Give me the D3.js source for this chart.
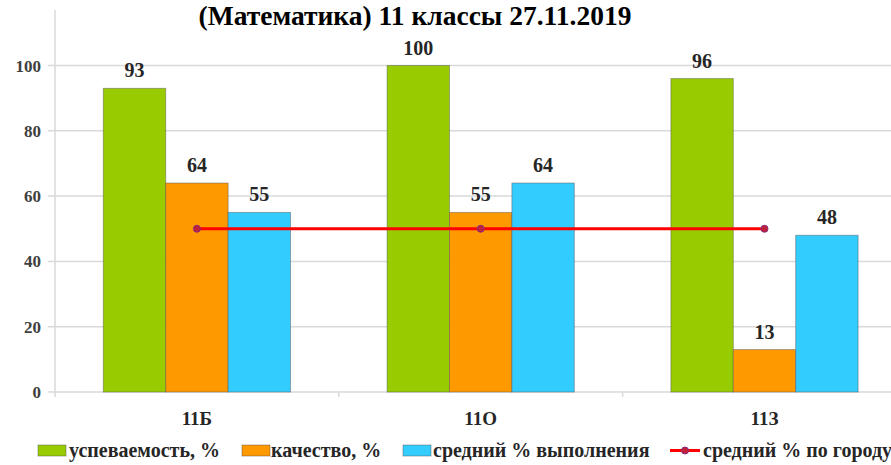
<!DOCTYPE html>
<head>
<meta charset="utf-8">
<script src="https://cdn.jsdelivr.net/npm/d3@7/dist/d3.min.js"></script>
</head>
<body style="margin:0; background:#fff">
<script>
// data
var classes = ["11Б", "11О", "11З"];
var seriesNames = ["успеваемость, %", "качество, %", "средний % выполнения"];
var lineName = "средний % по городу";
var uspev = [93, 100, 96];
var kachestvo = [64, 55, 13];
var vypolnenie = [55, 64, 48];
var cityAvg = [50, 50, 50];
var yTicks = [0, 20, 40, 60, 80, 100];
var colors = ["#99cc00", "#ff9900", "#33ccff"];

var width = 891, height = 465;
var svg = d3.select("body").append("svg")
  .attr("width", width)
  .attr("height", height)
  .attr("xmlns", "http://www.w3.org/2000/svg")
  .attr("font-family", "'Liberation Serif', 'DejaVu Serif', serif")
  .attr("font-weight", "bold");

var y = d3.scaleLinear().domain([0, 117]).range([392, 10]);
var x = d3.scaleBand().domain(classes).range([55, 906.4]);
var xs = d3.scaleBand().domain(d3.range(3)).range([0, x.bandwidth()]).paddingOuter(0.774);

// grid lines
svg.selectAll("line.grid")
  .data(yTicks).enter().append("line")
  .attr("class", "grid")
  .attr("x1", 48).attr("x2", width)
  .attr("y1", function(d) {return y(d);})
  .attr("y2", function(d) {return y(d);})
  .attr("stroke", "#d9d9d9")
  .attr("stroke-width", 1.5);

// y axis line
svg.append("line")
  .attr("x1", 55).attr("x2", 55)
  .attr("y1", y(117)).attr("y2", y(0) + 5)
  .attr("stroke", "#d9d9d9").attr("stroke-width", 1.5);

svg.selectAll("text.ytick")
  .data(yTicks).enter().append("text")
  .attr("class", "ytick")
  .attr("x", 41).attr("y", function(d) {return y(d) + 6;})
  .attr("text-anchor", "end")
  .attr("fill", "#404040")
  .style("font-size", "17px")
  .text(function(d) {return d;});

// x ticks between categories
svg.selectAll("line.xtick")
  .data([1, 2]).enter().append("line")
  .attr("class", "xtick")
  .attr("x1", function(d) {return x(classes[d]);})
  .attr("x2", function(d) {return x(classes[d]);})
  .attr("y1", y(0)).attr("y2", y(0) + 5)
  .attr("stroke", "#d9d9d9").attr("stroke-width", 1.5);

svg.selectAll("text.xlab")
  .data(classes).enter().append("text")
  .attr("class", "xlab")
  .attr("x", function(d) {return x(d) + x.bandwidth() / 2;})
  .attr("y", 425)
  .attr("text-anchor", "middle")
  .attr("fill", "#262626")
  .style("font-size", "19px")
  .text(function(d) {return d;});

// bars
var series = [uspev, kachestvo, vypolnenie];
series.forEach(function(vals, s) {
  svg.selectAll("rect.s" + s)
    .data(vals).enter().append("rect")
    .attr("class", "s" + s)
    .attr("x", function(d, i) {return x(classes[i]) + xs(s);})
    .attr("width", xs.bandwidth())
    .attr("y", function(d) {return y(d);})
    .attr("height", function(d) {return y(0) - y(d);})
    .attr("fill", colors[s])
    .attr("stroke", "rgba(80,80,80,0.45)")
    .attr("stroke-width", 1);
  svg.selectAll("text.v" + s)
    .data(vals).enter().append("text")
    .attr("class", "v" + s)
    .attr("x", function(d, i) {return x(classes[i]) + xs(s) + xs.bandwidth() / 2;})
    .attr("y", function(d) {return y(d) - 11;})
    .attr("text-anchor", "middle")
    .attr("fill", "#262626")
    .style("font-size", "20px")
    .text(function(d) {return d;});
});

// city average line
var line = d3.line()
  .x(function(d, i) {return x(classes[i]) + x.bandwidth() / 2;})
  .y(function(d) {return y(d);});
svg.append("path")
  .datum(cityAvg)
  .attr("d", line)
  .attr("fill", "none")
  .attr("stroke", "#ff0000")
  .attr("stroke-width", 3);
svg.selectAll("circle.avg")
  .data(cityAvg).enter().append("circle")
  .attr("class", "avg")
  .attr("cx", function(d, i) {return x(classes[i]) + x.bandwidth() / 2;})
  .attr("cy", function(d) {return y(d);})
  .attr("r", 3.5)
  .attr("fill", "#c0203a")
  .attr("stroke", "#8a2a7a")
  .attr("stroke-width", 1);

// title
svg.append("text")
  .attr("x", 415).attr("y", 25)
  .attr("text-anchor", "middle")
  .attr("fill", "#000")
  .style("font-size", "27.5px")
  .text("(Математика) 11 классы 27.11.2019");

// legend
var legX = [38, 242, 403];
var legTextX = [69, 271, 433, 703];
seriesNames.forEach(function(name, s) {
  svg.append("rect")
    .attr("x", legX[s]).attr("y", 445)
    .attr("width", 28).attr("height", 11)
    .attr("fill", colors[s])
    .attr("stroke", "rgba(80,80,80,0.45)");
});
svg.append("line")
  .attr("x1", 670).attr("x2", 700)
  .attr("y1", 450.5).attr("y2", 450.5)
  .attr("stroke", "#ff0000").attr("stroke-width", 3);
svg.append("circle")
  .attr("cx", 685).attr("cy", 450.5).attr("r", 3.5)
  .attr("fill", "#c0203a").attr("stroke", "#8a2a7a");
seriesNames.concat([lineName]).forEach(function(name, s) {
  svg.append("text")
    .attr("x", legTextX[s]).attr("y", 457)
    .attr("fill", "#262626")
    .style("font-size", "20px")
    .text(name);
});
</script>
</body>
